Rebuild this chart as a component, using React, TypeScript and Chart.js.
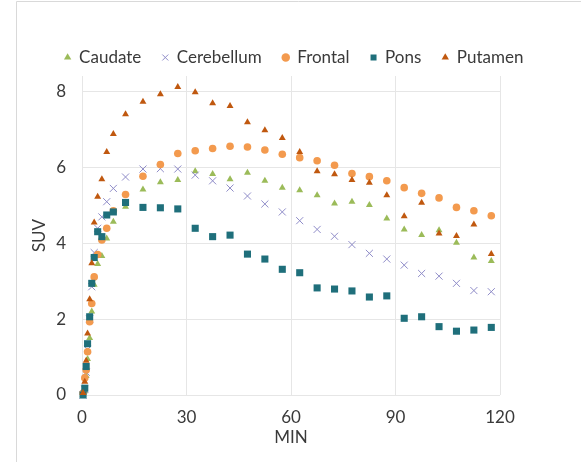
import React, { useEffect, useRef } from "react";
import { Chart, registerables } from "chart.js";

Chart.register(...registerables);

const times = [0.3, 0.8, 1.2, 1.6, 2.2, 2.8, 3.5, 4.5, 5.7, 7.1, 9.0, 12.5, 17.5, 22.5, 27.5, 32.5, 37.5, 42.5, 47.5, 52.5, 57.5, 62.5, 67.5, 72.5, 77.5, 82.5, 87.5, 92.5, 97.5, 102.5, 107.5, 112.5, 117.5];

const caudate = [0.0, 0.1, 0.5, 0.95, 1.5, 2.2, 2.9, 3.45, 3.66, 4.12, 4.56, 4.96, 5.41, 5.6, 5.66, 5.89, 5.82, 5.68, 5.85, 5.64, 5.46, 5.39, 5.26, 5.04, 5.09, 5.0, 4.65, 4.36, 4.21, 4.34, 4.01, 3.62, 3.53];
const cerebellum = [0.0, 0.15, 0.6, 1.2, 2.0, 2.85, 3.75, 4.39, 4.69, 5.09, 5.44, 5.74, 5.95, 5.96, 5.95, 5.79, 5.64, 5.45, 5.24, 5.03, 4.82, 4.59, 4.36, 4.18, 3.96, 3.73, 3.58, 3.42, 3.2, 3.13, 2.94, 2.75, 2.72];
const frontal = [0.05, 0.45, 0.66, 1.14, 1.93, 2.41, 3.11, 3.7, 4.08, 4.39, 4.85, 5.28, 5.76, 6.07, 6.36, 6.43, 6.49, 6.55, 6.53, 6.45, 6.34, 6.25, 6.17, 6.05, 5.83, 5.75, 5.64, 5.46, 5.31, 5.19, 4.94, 4.85, 4.72];
const pons = [0.0, 0.18, 0.75, 1.35, 2.06, 2.94, 3.62, 4.3, 4.17, 4.74, 4.82, 5.07, 4.94, 4.93, 4.9, 4.39, 4.17, 4.21, 3.71, 3.58, 3.31, 3.22, 2.82, 2.79, 2.74, 2.58, 2.61, 2.02, 2.06, 1.8, 1.68, 1.71, 1.78];
const putamen = [0.05, 0.35, 0.9, 1.62, 2.52, 3.47, 4.54, 5.22, 5.68, 6.4, 6.87, 7.39, 7.72, 7.92, 8.11, 7.97, 7.68, 7.61, 7.18, 6.97, 6.77, 6.4, 5.89, 5.81, 5.66, 5.59, 5.26, 4.71, 5.06, 4.25, 4.19, 4.49, 3.71];

const seriesNames = ["Caudate", "Cerebellum", "Frontal", "Pons", "Putamen"];
const yTicks = [0, 2, 4, 6, 8];
const xTicks = [0, 30, 60, 90, 120];
const xTitle = "MIN";
const yTitle = "SUV";

const FONT = "Lato, 'Open Sans', sans-serif";
const TEXT = "#3a3a3a";
const FS = 17;

const borderPlugin = {
  id: "outerBorder",
  afterDraw(chart: any) {
    const ctx = chart.ctx;
    ctx.save();
    ctx.strokeStyle = "#d9d9d9";
    ctx.lineWidth = 1;
    ctx.beginPath();
    ctx.moveTo(16.5, chart.height);
    ctx.lineTo(16.5, 1.5);
    ctx.lineTo(chart.width, 1.5);
    ctx.stroke();
    ctx.restore();
  },
};

export default function App() {
  const ref = useRef<HTMLCanvasElement>(null);
  useEffect(() => {
    if (!ref.current) return;
    const mk = (vals: number[]) => vals.map((v, i) => ({ x: times[i], y: v }));
    const styles = [
      { data: caudate, pointStyle: "triangle", color: "#9BBB59", radius: 4, bw: 0, order: 5 },
      { data: cerebellum, pointStyle: "crossRot", color: "#8F8CC8", radius: 5, bw: 1, order: 4 },
      { data: frontal, pointStyle: "circle", color: "#F39A4E", radius: 3.8, bw: 0, order: 3 },
      { data: pons, pointStyle: "rect", color: "#1F6F7B", radius: 5, bw: 0, order: 2 },
      { data: putamen, pointStyle: "triangle", color: "#C0580F", radius: 4, bw: 0, order: 1 },
    ];
    const chart = new Chart(ref.current, {
      type: "scatter",
      data: {
        datasets: styles.map((s, i) => ({
          label: seriesNames[i],
          data: mk(s.data),
          pointStyle: s.pointStyle as any,
          pointRadius: s.radius,
          pointHoverRadius: s.radius,
          backgroundColor: s.color,
          borderColor: s.color,
          pointBorderWidth: s.bw,
          borderWidth: s.bw,
          order: s.order,
          clip: false as any,
        })),
      },
      options: {
        animation: false,
        responsive: false,
        layout: { padding: { top: 28, left: 7, right: 0, bottom: 0 } },
        plugins: {
          tooltip: { enabled: false },
          legend: {
            position: "top",
            labels: {
              usePointStyle: true,
              boxWidth: 6,
              boxHeight: 6,
              padding: 21,
              color: TEXT,
              font: { family: FONT, size: FS },
              sort: (a: any, b: any) => a.datasetIndex - b.datasetIndex,
            },
          },
        },
        scales: {
          x: {
            type: "linear",
            min: 0,
            max: 120,
            afterFit: (s: any) => { s.height = 67; },
            afterBuildTicks: (s: any) => { s.ticks = xTicks.map((v) => ({ value: v })); },
            grid: { color: "#e6e6e6", drawTicks: false },
            border: { display: false },
            ticks: { color: TEXT, font: { family: FONT, size: FS }, padding: 12 },
            title: { display: true, text: xTitle, color: TEXT, font: { family: FONT, size: FS }, padding: { top: 0, bottom: 14 } },
          },
          y: {
            type: "linear",
            min: 0,
            max: 8.4,
            afterFit: (s: any) => { s.width = 75; },
            afterBuildTicks: (s: any) => { s.ticks = yTicks.map((v) => ({ value: v })); },
            grid: { color: "#e6e6e6", drawTicks: false },
            border: { display: false },
            ticks: { color: TEXT, font: { family: FONT, size: FS }, padding: 16 },
            title: { display: true, text: yTitle, color: TEXT, font: { family: FONT, size: FS }, padding: { top: 22, bottom: 0 } },
          },
          yRight: {
            type: "linear",
            position: "right",
            display: true,
            afterFit: (s: any) => { s.width = 81; },
            grid: { display: false, drawTicks: false },
            border: { display: false },
            ticks: { display: false },
          },
        },
      },
      plugins: [borderPlugin],
    });
    return () => chart.destroy();
  }, []);
  return (
    <div style={{ position: "absolute", left: 0, top: 0, width: 581, height: 462, background: "#fff" }}>
      <canvas ref={ref} width={581} height={462} style={{ display: "block" }} />
    </div>
  );
}
